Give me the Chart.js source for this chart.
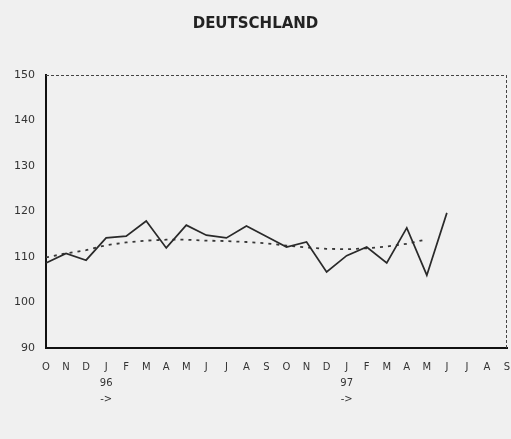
<!DOCTYPE html>
<html>
<head>
<meta charset="utf-8">
<script src="https://cdn.jsdelivr.net/npm/chart.js@4/dist/chart.umd.min.js"></script>
<style>
  html, body { margin: 0; padding: 0; background: #f0f0f0; }
  #wrap { width: 511px; height: 439px; position: relative; }
</style>
</head>
<body>
<div id="wrap"><canvas id="c" width="511" height="439"></canvas></div>
<script>
// Month labels, Oct 1995 .. Sep 1997
const months = ['O','N','D','J','F','M','A','M','J','J','A','S','O','N','D','J','F','M','A','M','J','J','A','S'];
// Extra lines under January labels
const yearMarks = { 3: ['96', '->'], 15: ['97', '->'] };
// Index values (solid line)
const indexValues = [108.7, 110.8, 109.3, 114.2, 114.6, 117.9, 112.0, 117.0, 114.8, 114.2, 116.8, 114.5,
                     112.2, 113.3, 106.7, 110.3, 112.2, 108.7, 116.4, 106.0, 119.7];
// Trend values (dotted line)
const trendValues = [109.9, 110.8, 111.5, 112.6, 113.2, 113.6, 113.8, 113.8, 113.6, 113.5, 113.3, 113.0,
                     112.5, 112.1, 111.8, 111.7, 111.9, 112.3, 112.9, 113.9];
// Y ticks
const yTicks = [90, 100, 110, 120, 130, 140, 150];

const labels = months.map((m, i) => yearMarks[i] ? [m].concat(yearMarks[i]) : m);

const frameEdges = {
  id: 'frameEdges',
  afterDatasetsDraw(chart) {
    const { ctx, chartArea: a } = chart;
    ctx.save();
    ctx.strokeStyle = '#444';
    ctx.lineWidth = 1;
    ctx.setLineDash([3, 2]);
    ctx.beginPath();
    ctx.moveTo(a.left, a.top + 0.5);
    ctx.lineTo(a.right, a.top + 0.5);
    ctx.moveTo(a.right - 0.5, a.top);
    ctx.lineTo(a.right - 0.5, a.bottom);
    ctx.stroke();
    ctx.restore();
  }
};

const FONT = 'DejaVu Sans, Verdana, sans-serif';

new Chart(document.getElementById('c'), {
  type: 'line',
  data: {
    labels: labels,
    datasets: [
      {
        data: indexValues,
        borderColor: '#2a2a2a',
        borderWidth: 1.7,
        pointRadius: 0,
        tension: 0,
        fill: false
      },
      {
        data: trendValues,
        borderColor: '#383838',
        borderWidth: 1.8,
        borderDash: [3, 5],
        pointRadius: 0,
        tension: 0,
        fill: false
      }
    ]
  },
  options: {
    responsive: false,
    animation: false,
    devicePixelRatio: 1,
    layout: { padding: { left: 0, right: 0, top: 0, bottom: 0 } },
    plugins: {
      legend: { display: false },
      tooltip: { enabled: false },
      title: {
        display: true,
        text: 'DEUTSCHLAND',
        color: '#222',
        font: { family: FONT, size: 15, weight: 'bold' },
        padding: { top: 15, bottom: 42 }
      }
    },
    scales: {
      x: {
        offset: false,
        grid: { display: false, drawTicks: false },
        border: { display: true, color: '#111', width: 2 },
        ticks: {
          autoSkip: false,
          maxRotation: 0,
          padding: 11,
          color: '#333',
          font: { family: FONT, size: 10, lineHeight: 1.6 },
        },
        afterFit(s) { s.height = 91; s.paddingRight = 4; }
      },
      y: {
        min: 90,
        max: 150,
        afterBuildTicks(s) { s.ticks = yTicks.map(v => ({ value: v })); },
        grid: { display: false, drawTicks: false },
        border: { display: true, color: '#111', width: 2 },
        ticks: {
          padding: 11,
          color: '#333',
          font: { family: FONT, size: 11 }
        },
        afterFit(s) { s.width = 46; }
      }
    }
  },
  plugins: [frameEdges]
});
</script>
</body>
</html>
